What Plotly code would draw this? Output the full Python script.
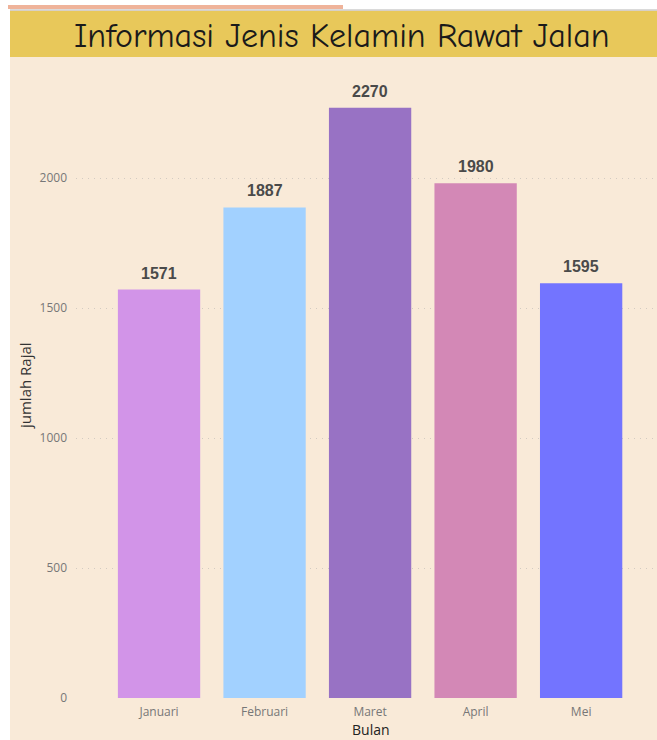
import plotly.graph_objects as go

bulan = ["Januari", "Februari", "Maret", "April", "Mei"]
jumlah = [1571, 1887, 2270, 1980, 1595]
warna = ["#D294E8", "#A2D1FF", "#9872C4", "#D388B6", "#7374FF"]
judul = "Informasi Jenis Kelamin Rawat Jalan"

W, H = 657, 740
L, R, T, B = 76, 655, 74, 698


def px(x):
    return (x - L) / (R - L)


def py(y):
    return (B - y) / (B - T)


fig = go.Figure()
fig.add_trace(go.Bar(
    x=bulan, y=jumlah, marker=dict(color=warna, line=dict(width=0)),
    width=0.78, hoverinfo="x+y",
))

annotations = []
for b, v in zip(bulan, jumlah):
    annotations.append(dict(
        x=b, y=v, text=f"<b>{v}</b>", showarrow=False, yanchor="bottom",
        yshift=6, font=dict(family="Liberation Sans, Arial", size=16, color="#4a4a4a"),
    ))

annotations += [
    dict(xref="paper", yref="paper", x=px(342), y=py(36), text=judul, showarrow=False,
         xanchor="center", yanchor="middle",
         font=dict(family="Comic Sans MS, Comic Neue, cursive", size=34, color="#1a1a1a")),
    dict(xref="paper", yref="paper", x=px(25), y=py(386), text="jumlah Rajal", showarrow=False,
         textangle=-90, xanchor="center", yanchor="middle",
         font=dict(family="Open Sans, Noto Sans", size=15, color="#333333")),
    dict(xref="paper", yref="paper", x=px(371), y=py(740), text="Bulan", showarrow=False,
         xanchor="center", yanchor="bottom", borderpad=0,
         font=dict(family="Open Sans, Noto Sans", size=14, color="#222222")),
]

shapes = [
    dict(type="rect", xref="paper", yref="paper", x0=px(10), x1=px(660), y0=py(745), y1=py(10),
         fillcolor="#F9EAD8", line=dict(width=0), layer="below"),
    dict(type="rect", xref="paper", yref="paper", x0=px(10), x1=px(660), y0=py(57), y1=py(11),
         fillcolor="#E8C85A", line=dict(width=0), layer="below"),
    dict(type="line", xref="paper", yref="paper", x0=px(10), x1=px(660), y0=py(10), y1=py(10),
         line=dict(color="#b5b5b5", width=1), layer="below"),
    dict(type="rect", xref="paper", yref="paper", x0=px(8), x1=px(343), y0=py(9), y1=py(5),
         fillcolor="#EFB39A", line=dict(width=0), layer="below"),
]

fig.update_layout(
    width=W, height=H,
    margin=dict(l=L, r=W - R, t=T, b=H - B, pad=0),
    paper_bgcolor="white",
    plot_bgcolor="rgba(0,0,0,0)",
    showlegend=False,
    bargap=0.22,
    annotations=annotations,
    shapes=shapes,
    xaxis=dict(
        range=[-0.787, 4.70], showgrid=False, showline=False, zeroline=False,
        ticks="", tickfont=dict(family="Open Sans, Noto Sans", size=12, color="#777777"),
        ticklabelstandoff=5,
    ),
    yaxis=dict(
        range=[0, 2400], dtick=500, tick0=0, showgrid=True, gridcolor="#d3cbc2",
        griddash="1px,5px", gridwidth=1, zeroline=False, showline=False, ticks="",
        tickfont=dict(family="Open Sans, Noto Sans", size=12, color="#777777"),
        ticklabelstandoff=8,
    ),
)

fig.write_html("out.html", config={"displayModeBar": False},
               post_script="document.body.style.margin='0';")
